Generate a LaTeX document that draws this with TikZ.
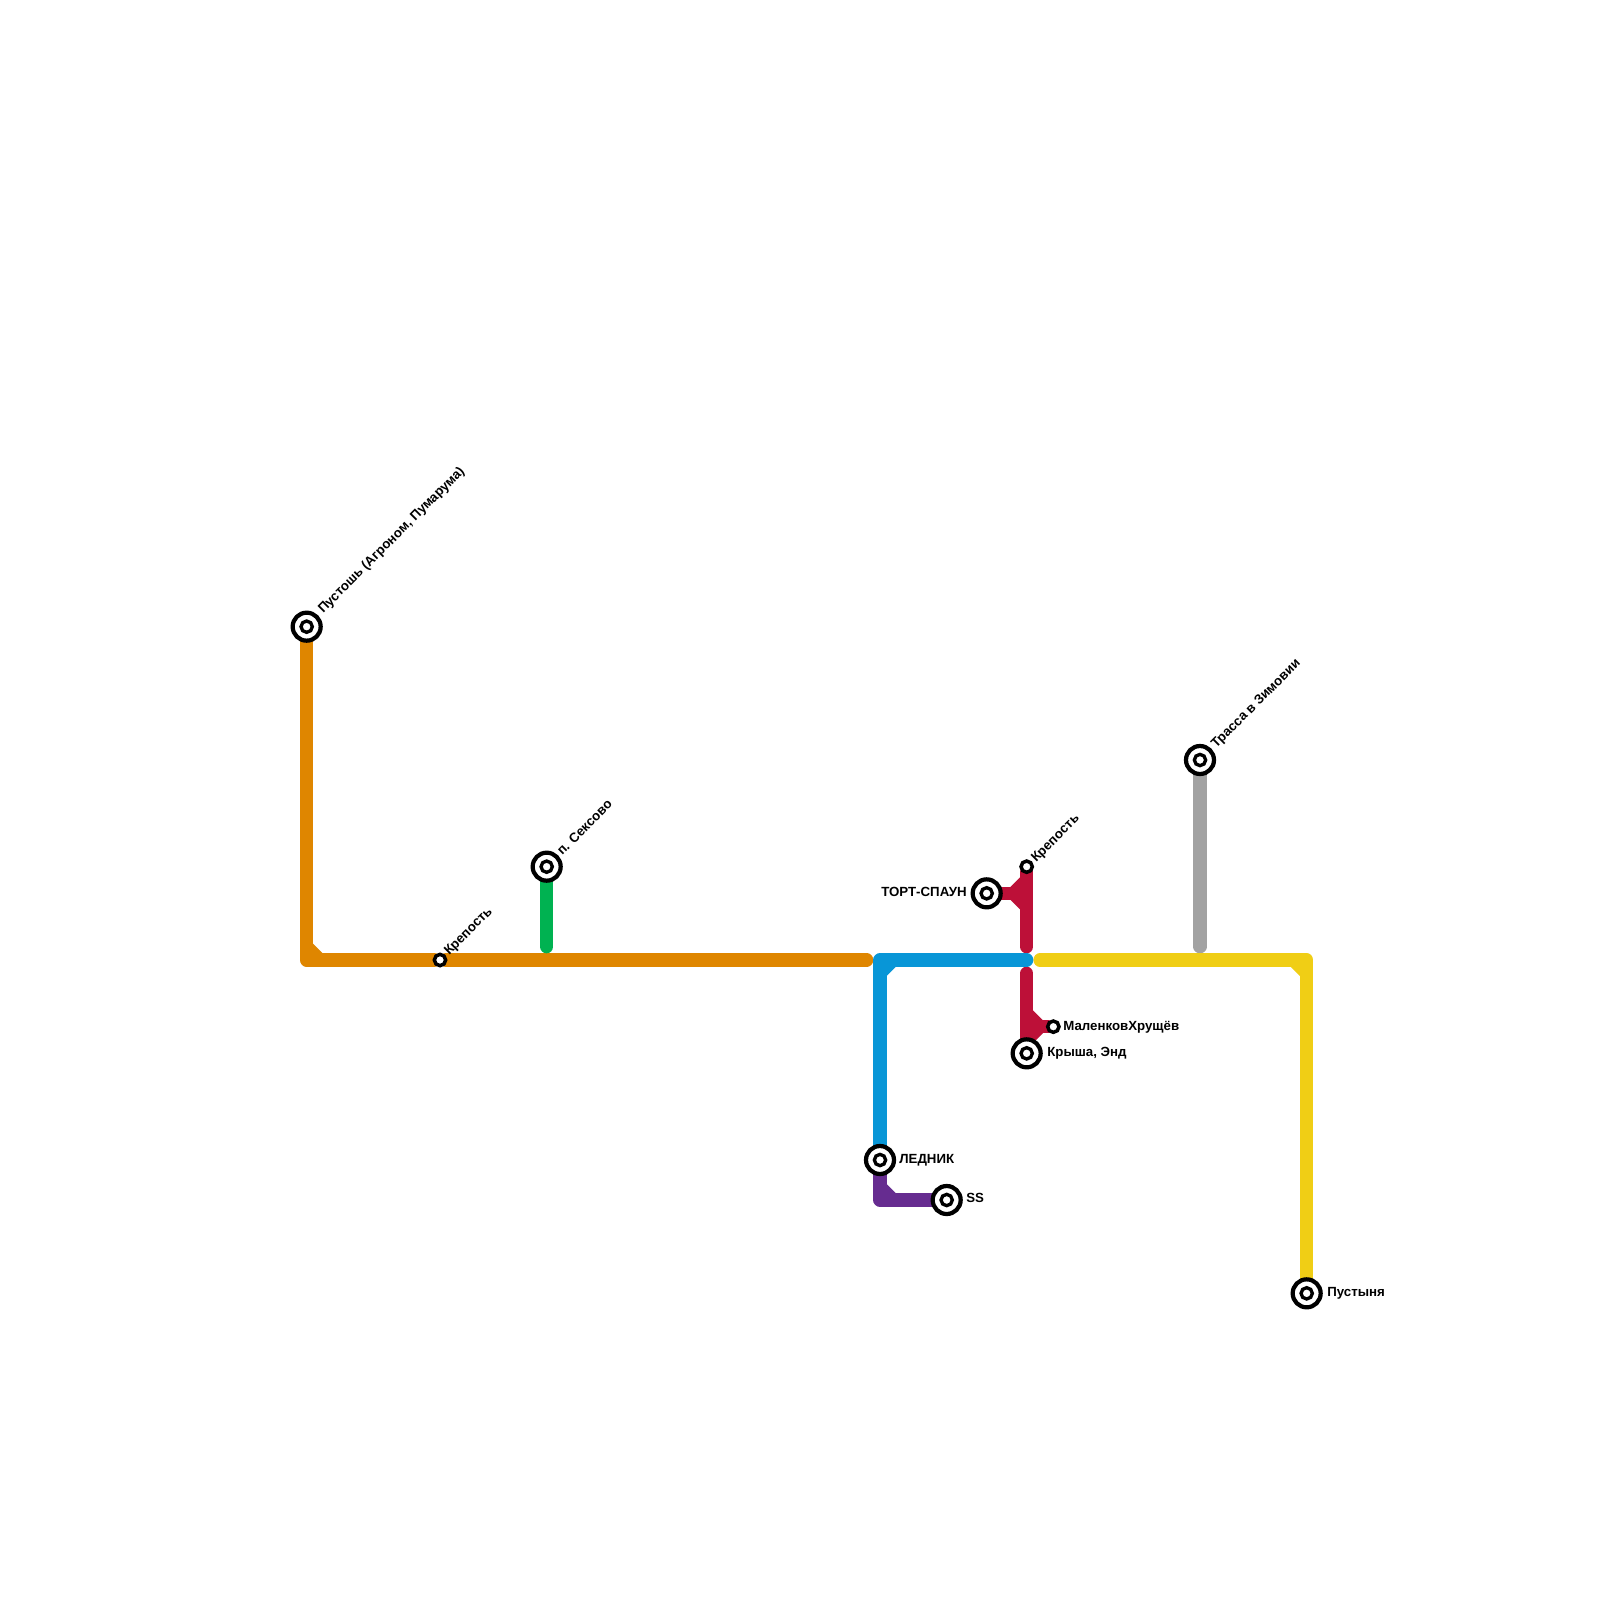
\documentclass[tikz,border=0pt]{standalone}
\usepackage{fontspec}
\setmainfont{Liberation Sans}
\usetikzlibrary{backgrounds}
\definecolor{paper}{HTML}{FFFFFF}
\definecolor{ink}{HTML}{000000}
\definecolor{wasteorange}{HTML}{DF8600}
\definecolor{forestgreen}{HTML}{00B251}
\definecolor{glacierblue}{HTML}{0896D7}
\definecolor{roofred}{HTML}{BD1038}
\definecolor{desertyellow}{HTML}{F0CE15}
\definecolor{highwaygrey}{HTML}{A2A2A2}
\definecolor{ssviolet}{HTML}{662C90}
\tikzset{
  metro/.style={line width=7.56pt,line cap=round,line join=round},
  chamfer/.style={line width=7.56pt,line cap=butt},
  hubring/.style={circle,draw=ink,fill=paper,line width=2.4pt,outer sep=0pt,
                  minimum size=5.6mm,inner sep=0pt},
  hubdot/.style={circle,draw=ink,fill=paper,line width=1.9pt,outer sep=0pt,
                 minimum size=2.26mm,inner sep=0pt},
  stopdot/.style={circle,draw=ink,fill=paper,line width=2.0pt,outer sep=0pt,
               minimum size=2.26mm,inner sep=0pt},
  every node/.style={text=ink}
}
\newcommand{\labelfont}{\bfseries\fontsize{7.55}{8.5}\selectfont}
\newcommand{\hub}[3]{%
  \node[hubring] (#1) at (#2,#3) {};
  \node[hubdot] (#1dot) at (#2,#3) {};
}

\begin{document}
\begin{tikzpicture}[x=.2mm,y=-.2mm]
  \useasboundingbox (0,0) rectangle (1600,1600);

  % ======================== STATIONS ========================
  \hub{pustosh}{306.67}{626.67}
  \hub{seksovo}{546.67}{866.67}
  \hub{tort}{986.67}{893.33}
  \hub{krysha}{1026.67}{1053.33}
  \hub{lednik}{880}{1160}
  \hub{ssend}{946.67}{1200}
  \hub{trassa}{1200}{760}
  \hub{pustynya}{1306.67}{1293.33}
  \node[stopdot] (krepostwest) at (440,960) {};
  \node[stopdot] (krepostnorth) at (1026.67,866.67) {};
  \node[stopdot] (malenkov) at (1053.33,1026.67) {};

  % Bends and free line ends
  \coordinate (orangebend) at (306.67,960);
  \coordinate (orangeend) at (866.67,960);
  \coordinate (greenend) at (546.67,946.67);
  \coordinate (bluebend) at (880,960);
  \coordinate (blueend) at (1026.67,960);
  \coordinate (redupend) at (1026.67,946.67);
  \coordinate (redupfork) at (1013.33,893.33);
  \coordinate (reddownend) at (1026.67,973.33);
  \coordinate (reddownfork) at (1040,1026.67);
  \coordinate (violetbend) at (880,1200);
  \coordinate (yellowstart) at (1040,960);
  \coordinate (yellowbend) at (1306.67,960);
  \coordinate (greyend) at (1200,946.67);

  % ======================== LINES ========================
  \begin{pgfonlayer}{background}
    \fill[paper] (0,0) rectangle (1600,1600);

    % Orange line
    \draw[metro,wasteorange] (pustosh) -- (orangebend) -- (krepostwest) -- (orangeend);
    \draw[chamfer,wasteorange] (306.67,946.67) -- (320,960);

    % Green and grey stubs
    \draw[metro,forestgreen] (seksovo) -- (greenend);
    \draw[metro,highwaygrey] (trassa) -- (greyend);

    % Yellow line
    \draw[metro,desertyellow] (yellowstart) -- (yellowbend) -- (pustynya);
    \draw[chamfer,desertyellow] (1293.33,960) -- (1306.67,973.33);

    % Red line, upper part
    \draw[metro,roofred] (krepostnorth) -- (redupend);
    \draw[metro,roofred] (tort) -- (redupfork);
    \draw[chamfer,roofred] (1026.67,880) -- (redupfork) -- (1026.67,906.67);

    % Red line, lower part
    \draw[metro,roofred] (reddownend) -- (krysha);
    \draw[metro,roofred] (malenkov) -- (reddownfork);
    \draw[chamfer,roofred] (1026.67,1013.33) -- (reddownfork) -- (1026.67,1040);

    % Blue line
    \draw[metro,glacierblue] (blueend) -- (bluebend) -- (lednik);
    \draw[chamfer,glacierblue] (880,973.33) -- (893.33,960);

    % Violet line
    \draw[metro,ssviolet] (lednik) -- (violetbend) -- (ssend);
    \draw[chamfer,ssviolet] (880,1186.67) -- (893.33,1200);
  \end{pgfonlayer}

  % ======================== LABELS ========================
  \node[anchor=base west,rotate=45,font=\labelfont,inner sep=0pt] (pustoshlabel)
    at (323,614) {Пустошь (Агроном, Пумарума)};
  \node[anchor=base west,rotate=45,font=\labelfont,inner sep=0pt] (krepostwestlabel)
    at (449,956) {Крепость};
  \node[anchor=base west,rotate=45,font=\labelfont,inner sep=0pt] (seksovolabel)
    at (562,856) {п. Сексово};
  \node[anchor=base west,rotate=45,font=\labelfont,inner sep=0pt] (krepostnorthlabel)
    at (1036,863) {Крепость};
  \node[anchor=base west,rotate=45,font=\labelfont,inner sep=0pt] (trassalabel)
    at (1216,749) {Трасса в Зимовии};
  \node[anchor=base east,font=\labelfont,inner sep=0pt] (tortlabel)
    at (967,896.7) {ТОРТ-СПАУН};
  \node[anchor=base west,font=\labelfont,inner sep=0pt] (malenkovlabel)
    at (1063,1030) {МаленковХрущёв};
  \node[anchor=base west,font=\labelfont,inner sep=0pt] (kryshalabel)
    at (1047,1056.7) {Крыша, Энд};
  \node[anchor=base west,font=\labelfont,inner sep=0pt] (lednikabel)
    at (899,1163.2) {ЛЕДНИК};
  \node[anchor=base west,font=\labelfont,inner sep=0pt] (sslabel)
    at (966,1202.7) {SS};
  \node[anchor=base west,font=\labelfont,inner sep=0pt] (pustynyalabel)
    at (1327,1296) {Пустыня};
\end{tikzpicture}
\end{document}
